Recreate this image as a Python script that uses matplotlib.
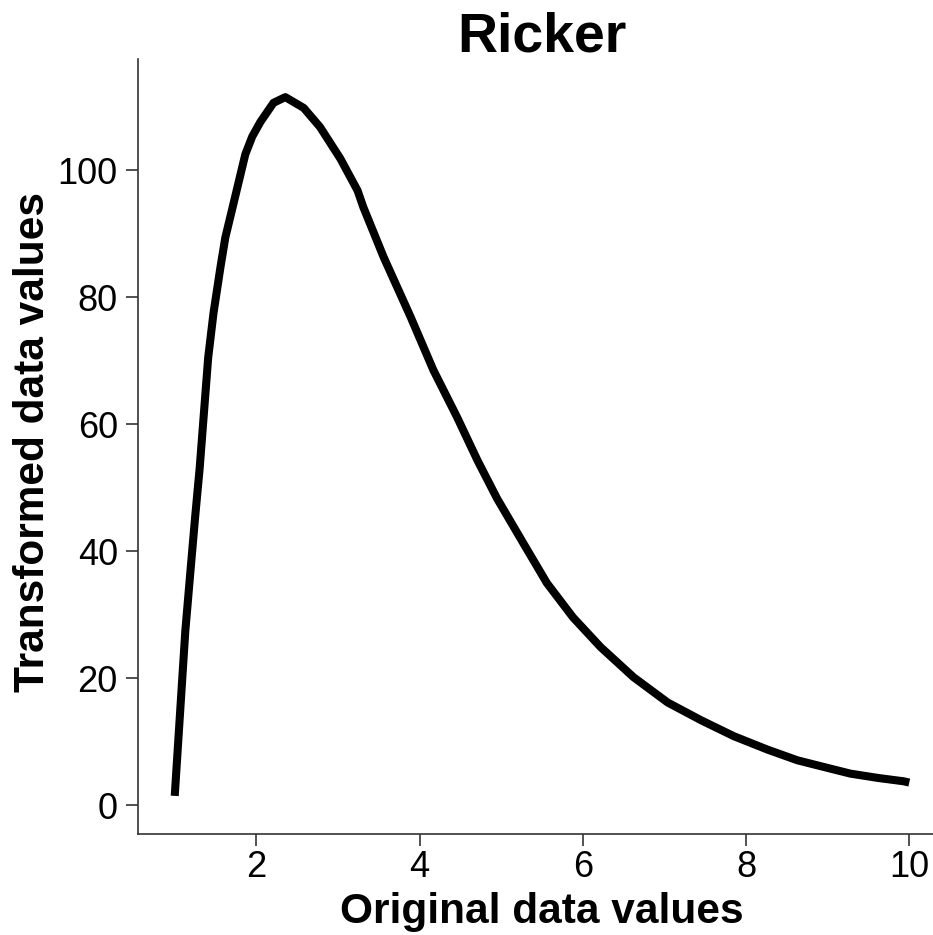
import matplotlib
matplotlib.use("Agg")
import matplotlib.pyplot as plt

# ── data ──────────────────────────────────────────────────────────────────
x_vals = [1.0, 1.07, 1.13, 1.19, 1.25, 1.305, 1.41, 1.475, 1.56, 1.62, 1.71,
          1.865, 1.95, 2.05, 2.21, 2.355, 2.58, 2.78, 3.03, 3.24, 3.31, 3.56,
          3.89, 4.17, 4.46, 4.71, 4.95, 5.27, 5.56, 5.88, 6.22, 6.62, 7.04,
          7.45, 7.85, 8.26, 8.63, 9.0, 9.28, 9.63, 9.93, 10.0]
y_vals = [1.5, 15.5, 27.5, 36.5, 45.4, 53.0, 70.5, 77.5, 84.7, 89.4, 94.2,
          102.5, 105.3, 107.6, 110.6, 111.5, 109.8, 106.8, 101.8, 96.8, 94.2, 86.3,
          76.9, 68.5, 61.1, 54.3, 48.3, 41.3, 35.0, 29.6, 24.9, 20.2, 16.2,
          13.4, 10.9, 8.8, 7.1, 5.9, 5.0, 4.3, 3.8, 3.6]

x_ticks = [2, 4, 6, 8, 10]
y_ticks = [0, 20, 40, 60, 80, 100]

FONT = "Liberation Sans"
SPINE = "#333333"
W, H = 933, 935

fig = plt.figure(figsize=(W / 100, H / 100), dpi=100, facecolor="white")
ax = fig.add_axes([138 / W, 101 / H, 808 / W, 775 / H])

ax.plot(x_vals, y_vals, color="black", lw=5.8, solid_capstyle="butt",
        solid_joinstyle="round")

ax.set_xlim(0.55, 10.45)
ax.set_ylim(-4.5, 117.5)
ax.set_xticks(x_ticks)
ax.set_yticks(y_ticks)

for side in ["top", "right"]:
    ax.spines[side].set_visible(False)
for side in ["left", "bottom"]:
    ax.spines[side].set_color(SPINE)
    ax.spines[side].set_linewidth(1.2)

ax.tick_params(axis="both", direction="out", length=8.5, width=1.2,
               color=SPINE, labelsize=26, labelcolor="black")
ax.tick_params(axis="x", pad=3)
ax.tick_params(axis="y", pad=6)
for lab in ax.get_xticklabels() + ax.get_yticklabels():
    lab.set_fontfamily(FONT)

# ── labels and title placed in figure pixels ──────────────────────────────
fig.text(542 / W, 1 - 923 / H, "Original data values", fontsize=30.5,
         fontweight="bold", fontfamily=FONT, ha="center", va="baseline")
fig.text(33 / W, 1 - 442 / H, "Transformed data values", fontsize=30.5,
         fontweight="bold", fontfamily=FONT, ha="center", va="center",
         rotation=90)
fig.text(542 / W, 1 - 51 / H, "Ricker", fontsize=40, fontweight="bold",
         fontfamily=FONT, ha="center", va="baseline")

fig.savefig("out.png", dpi=100, facecolor="white")
